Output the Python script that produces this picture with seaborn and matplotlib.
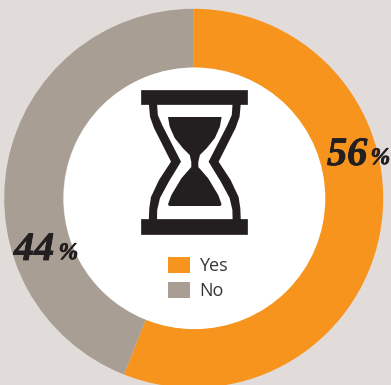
import matplotlib
matplotlib.use("Agg")
import matplotlib.pyplot as plt
import matplotlib.patheffects as pe
from matplotlib.patches import Circle, Patch, Polygon
import seaborn as sns

categories = ["Yes", "No"]
shares = [56, 44]
slice_colors = ["#f7941e", "#a89e94"]
bg_color = "#e1dcd9"
ink = "#231f20"

sns.set_style("white")
plt.rcParams["font.family"] = ["Open Sans", "DejaVu Sans"]

fig = plt.figure(figsize=(3.91, 3.85), dpi=100, facecolor=bg_color)
ax = fig.add_axes([0, 0, 1, 1])

# axes are in pixels of the picture, y flipped by hand (385 - y)
cx, cy, outer, inner = 193.7, 385 - 198.3, 189.5, 130.5
ax.pie(shares, colors=slice_colors, startangle=90, counterclock=False,
       center=(cx, cy), radius=outer,
       wedgeprops={"width": outer - inner, "linewidth": 0})
ax.add_patch(Circle((cx + 0.8, cy), inner + 0.3, fc="white", ec="none", zorder=2))
ax.set_xlim(0, 391)
ax.set_ylim(0, 385)
ax.set_aspect("equal")
ax.axis("off")


def mirrored(left_side):
    right_side = [(389.6 - x, y) for x, y in reversed(left_side)]
    return [(x, 385 - y) for x, y in left_side + right_side]


# hourglass glass, black outline then white inside
glass_outer = [(148.8, 103), (150, 116.7), (154, 128), (171, 161.7),
               (159, 180), (151, 197), (149.3, 208), (148.8, 220)]
glass_inner = [(157, 103), (157.8, 115), (162.5, 125.7), (181, 161.7),
               (168.8, 181.7), (160, 198), (157.2, 210), (157, 220)]
sand = [(168, 117), (169.7, 126.7), (174.7, 138), (183, 148.3), (189.7, 155),
        (191.3, 162), (191.3, 167), (181.4, 178.3), (171.4, 195), (168, 204.3), (169.2, 206)]
ax.add_patch(Polygon(mirrored(glass_outer), fc=ink, ec="none", zorder=3))
ax.add_patch(Polygon(mirrored(glass_inner), fc="white", ec="none", zorder=4))
ax.add_patch(Polygon(mirrored(sand), fc=ink, ec="none", zorder=5))
for y0, y1 in [(89.7, 104.3), (218.7, 233.7)]:
    bar = [(141.2, 385 - y0), (247.2, 385 - y0), (247.2, 385 - y1), (141.2, 385 - y1)]
    ax.add_patch(Polygon(bar, fc=ink, ec=ink, lw=0.5, joinstyle="round", zorder=6))

# percent labels, the thin stroke makes up for the lighter font
serif = {"family": "Liberation Serif", "weight": "bold", "style": "italic", "color": ink,
         "path_effects": [pe.withStroke(linewidth=0.6, foreground=ink)], "zorder": 7}
ax.text(327, 385 - 165, str(shares[0]), fontsize=29, ha="left", va="baseline", **serif)
ax.text(370.5, 385 - 164, "%", fontsize=17, ha="left", va="baseline", **serif)
ax.text(14, 385 - 260, str(shares[1]), fontsize=29, ha="left", va="baseline", **serif)
ax.text(58.5, 385 - 259, "%", fontsize=17, ha="left", va="baseline", **serif)

handles = [Patch(fc=c, ec="none", label=n) for c, n in zip(slice_colors, categories)]
ax.legend(handles=handles, loc="upper left", bbox_to_anchor=(168 / 391, 1 - 256.5 / 385),
          borderaxespad=0, borderpad=0, frameon=False, fontsize=13,
          handlelength=1.22, handleheight=1.05, handletextpad=0.5, labelspacing=0.36,
          labelcolor="#3a3637")

fig.savefig("out.png", dpi=100, facecolor=bg_color)
